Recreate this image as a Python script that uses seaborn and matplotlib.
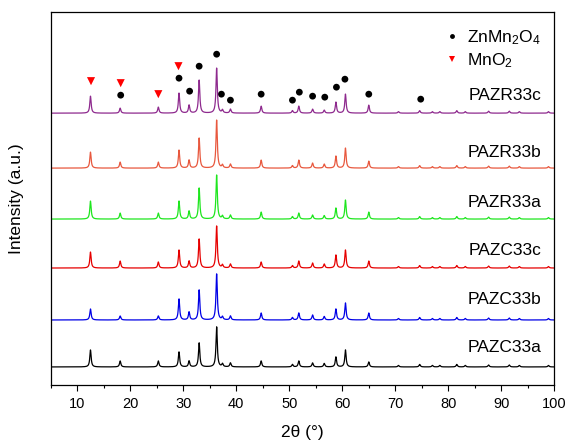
import numpy as np
import pandas as pd
import matplotlib
matplotlib.use("Agg")
import matplotlib.pyplot as plt
from matplotlib.lines import Line2D
import seaborn as sns

# ---- data ----
samples = ["PAZC33a", "PAZC33b", "PAZC33c", "PAZR33a", "PAZR33b", "PAZR33c"]
colors = ["#000000", "#0000E6", "#E60000", "#1EE61E", "#E8583E", "#8E2A8E"]
offsets = [18, 65, 117, 166, 217, 272]

peak_pos = [12.5, 18.1, 25.3, 29.2, 31.1, 33.0, 36.3, 37.4, 38.9, 44.7,
            50.6, 51.8, 54.4, 56.6, 58.8, 60.6, 65.0, 70.6, 74.6, 77.0,
            78.4, 81.6, 83.2, 87.6, 91.5, 93.4, 98.9]

h_PAZC33a = [17, 6, 6, 15, 6, 24, 40, 3, 4, 6, 2.5, 6, 4, 3.5, 10, 17, 5, 1.5, 2.5, 1.5, 1.5, 2.5, 1.5, 2, 2, 1.5, 1.5]
h_PAZC33b = [11, 4, 4, 21, 8, 30, 46, 3, 4, 7, 2.5, 7, 5, 3.5, 11, 17, 7, 1.5, 2.5, 1.5, 1.5, 2.5, 1.5, 2, 2, 1.5, 1.5]
h_PAZC33c = [16, 7, 6, 18, 7, 29, 42, 3, 4, 6, 2.5, 7, 5, 4, 13, 18, 7, 1.5, 2.5, 1.5, 1.5, 2.5, 1.5, 2, 2, 1.5, 1.5]
h_PAZR33a = [18, 6, 6, 18, 8, 31, 44, 3, 4, 7, 2.5, 6, 4, 3.5, 11, 19, 7, 1.5, 2.5, 1.5, 1.5, 2.5, 1.5, 2, 2, 1.5, 1.5]
h_PAZR33b = [16, 6, 6, 18, 8, 30, 48, 3, 4, 8, 2.5, 8, 5, 4, 12, 20, 7, 1.5, 2.5, 1.5, 1.5, 2.5, 1.5, 2, 2, 1.5, 1.5]
h_PAZR33c = [17, 5, 6, 20, 8, 33, 45, 3, 4, 7, 2.5, 7, 4, 3, 11, 19, 8, 1.5, 2.5, 1.5, 1.5, 2.5, 1.5, 2, 2, 1.5, 1.5]
heights = [h_PAZC33a, h_PAZC33b, h_PAZC33c, h_PAZR33a, h_PAZR33b, h_PAZR33c]

# phase markers above the top pattern
znmn_x = [18.2, 29.2, 31.2, 33.0, 36.3, 37.2, 38.9, 44.7, 50.6, 51.9, 54.4, 56.7, 58.9, 60.5, 65.0, 74.8]
znmn_y = [290, 307, 294, 319, 331, 291, 285, 291, 285, 293, 289, 288, 298, 306, 291, 286]
mno2_x = [12.6, 18.2, 25.3, 29.1]
mno2_y = [304, 302, 291, 319]

label_x = 97.6
label_y = [37, 85, 135, 183, 233, 290]

# ---- build long-form table of the patterns from the peak lists ----
two_theta = np.arange(5.0, 100.0001, 0.02)
fwhm = 0.30
rows = []
for name, off, hs in zip(samples, offsets, heights):
    y = np.full_like(two_theta, float(off))
    for p, h in zip(peak_pos, hs):
        y += h / (1 + ((two_theta - p) / (fwhm / 2)) ** 2)
    rows.append(pd.DataFrame({"two_theta": two_theta, "intensity": y, "sample": name}))
df = pd.concat(rows, ignore_index=True)

sns.set_theme(style="ticks")
plt.rcParams["font.family"] = ["Liberation Sans", "DejaVu Sans"]
plt.rcParams["mathtext.fontset"] = "custom"
plt.rcParams["mathtext.rm"] = "Liberation Sans"
plt.rcParams["mathtext.it"] = "Liberation Sans:italic"
plt.rcParams["text.color"] = "black"
plt.rcParams["axes.labelcolor"] = "black"
plt.rcParams["xtick.color"] = "black"
plt.rcParams["xtick.labelcolor"] = "black"

fig = plt.figure(figsize=(5.68, 4.45), dpi=100)
ax = fig.add_axes([0.0893, 0.135, 0.8866, 0.8375])

sns.lineplot(data=df, x="two_theta", y="intensity", hue="sample",
             palette=dict(zip(samples, colors)), hue_order=samples,
             estimator=None, sort=False, linewidth=0.9, legend=False, ax=ax)

sns.scatterplot(x=znmn_x, y=znmn_y, color="black", marker="o", s=24,
                edgecolor="none", ax=ax, legend=False)
sns.scatterplot(x=mno2_x, y=mno2_y, color="#FF0000", marker="v", s=34,
                edgecolor="none", ax=ax, legend=False)

for name, ly in zip(samples, label_y):
    ax.text(label_x, ly, name, ha="right", va="center", fontsize=12.5, color="black")

handles = [Line2D([], [], linestyle="none", marker="o", color="black",
                  markersize=3.5, markeredgewidth=0),
           Line2D([], [], linestyle="none", marker="v", color="#FF0000",
                  markersize=4.5, markeredgewidth=0)]
leg = ax.legend(handles, ["ZnMn$_2$O$_4$", "MnO$_2$"], loc="upper right",
                bbox_to_anchor=(0.995, 0.985), frameon=False, fontsize=12.5,
                handletextpad=0.4, handlelength=1.0, labelspacing=0.25, borderaxespad=0.2)
for t in leg.get_texts():
    t.set_color("black")

ax.set_xlim(5, 100)
ax.set_ylim(0, 373)
ax.set_xticks(np.arange(10, 101, 10))
ax.set_xticks(np.arange(5, 101, 5), minor=True)
ax.set_yticks([])
ax.tick_params(axis="x", which="major", direction="out", length=4, width=0.8,
               labelsize=10.5, pad=5, color="black", labelcolor="black")
ax.tick_params(axis="x", which="minor", direction="out", length=2.5, width=0.8,
               color="black", bottom=True)
for s in ax.spines.values():
    s.set_visible(True)
    s.set_color("black")
    s.set_linewidth(0.9)

ax.set_xlabel("2θ (°)", fontsize=12.5, labelpad=10, color="black")
ax.set_ylabel("Intensity (a.u.)", fontsize=12.5, labelpad=19, color="black")

fig.savefig("out.png", dpi=100)
